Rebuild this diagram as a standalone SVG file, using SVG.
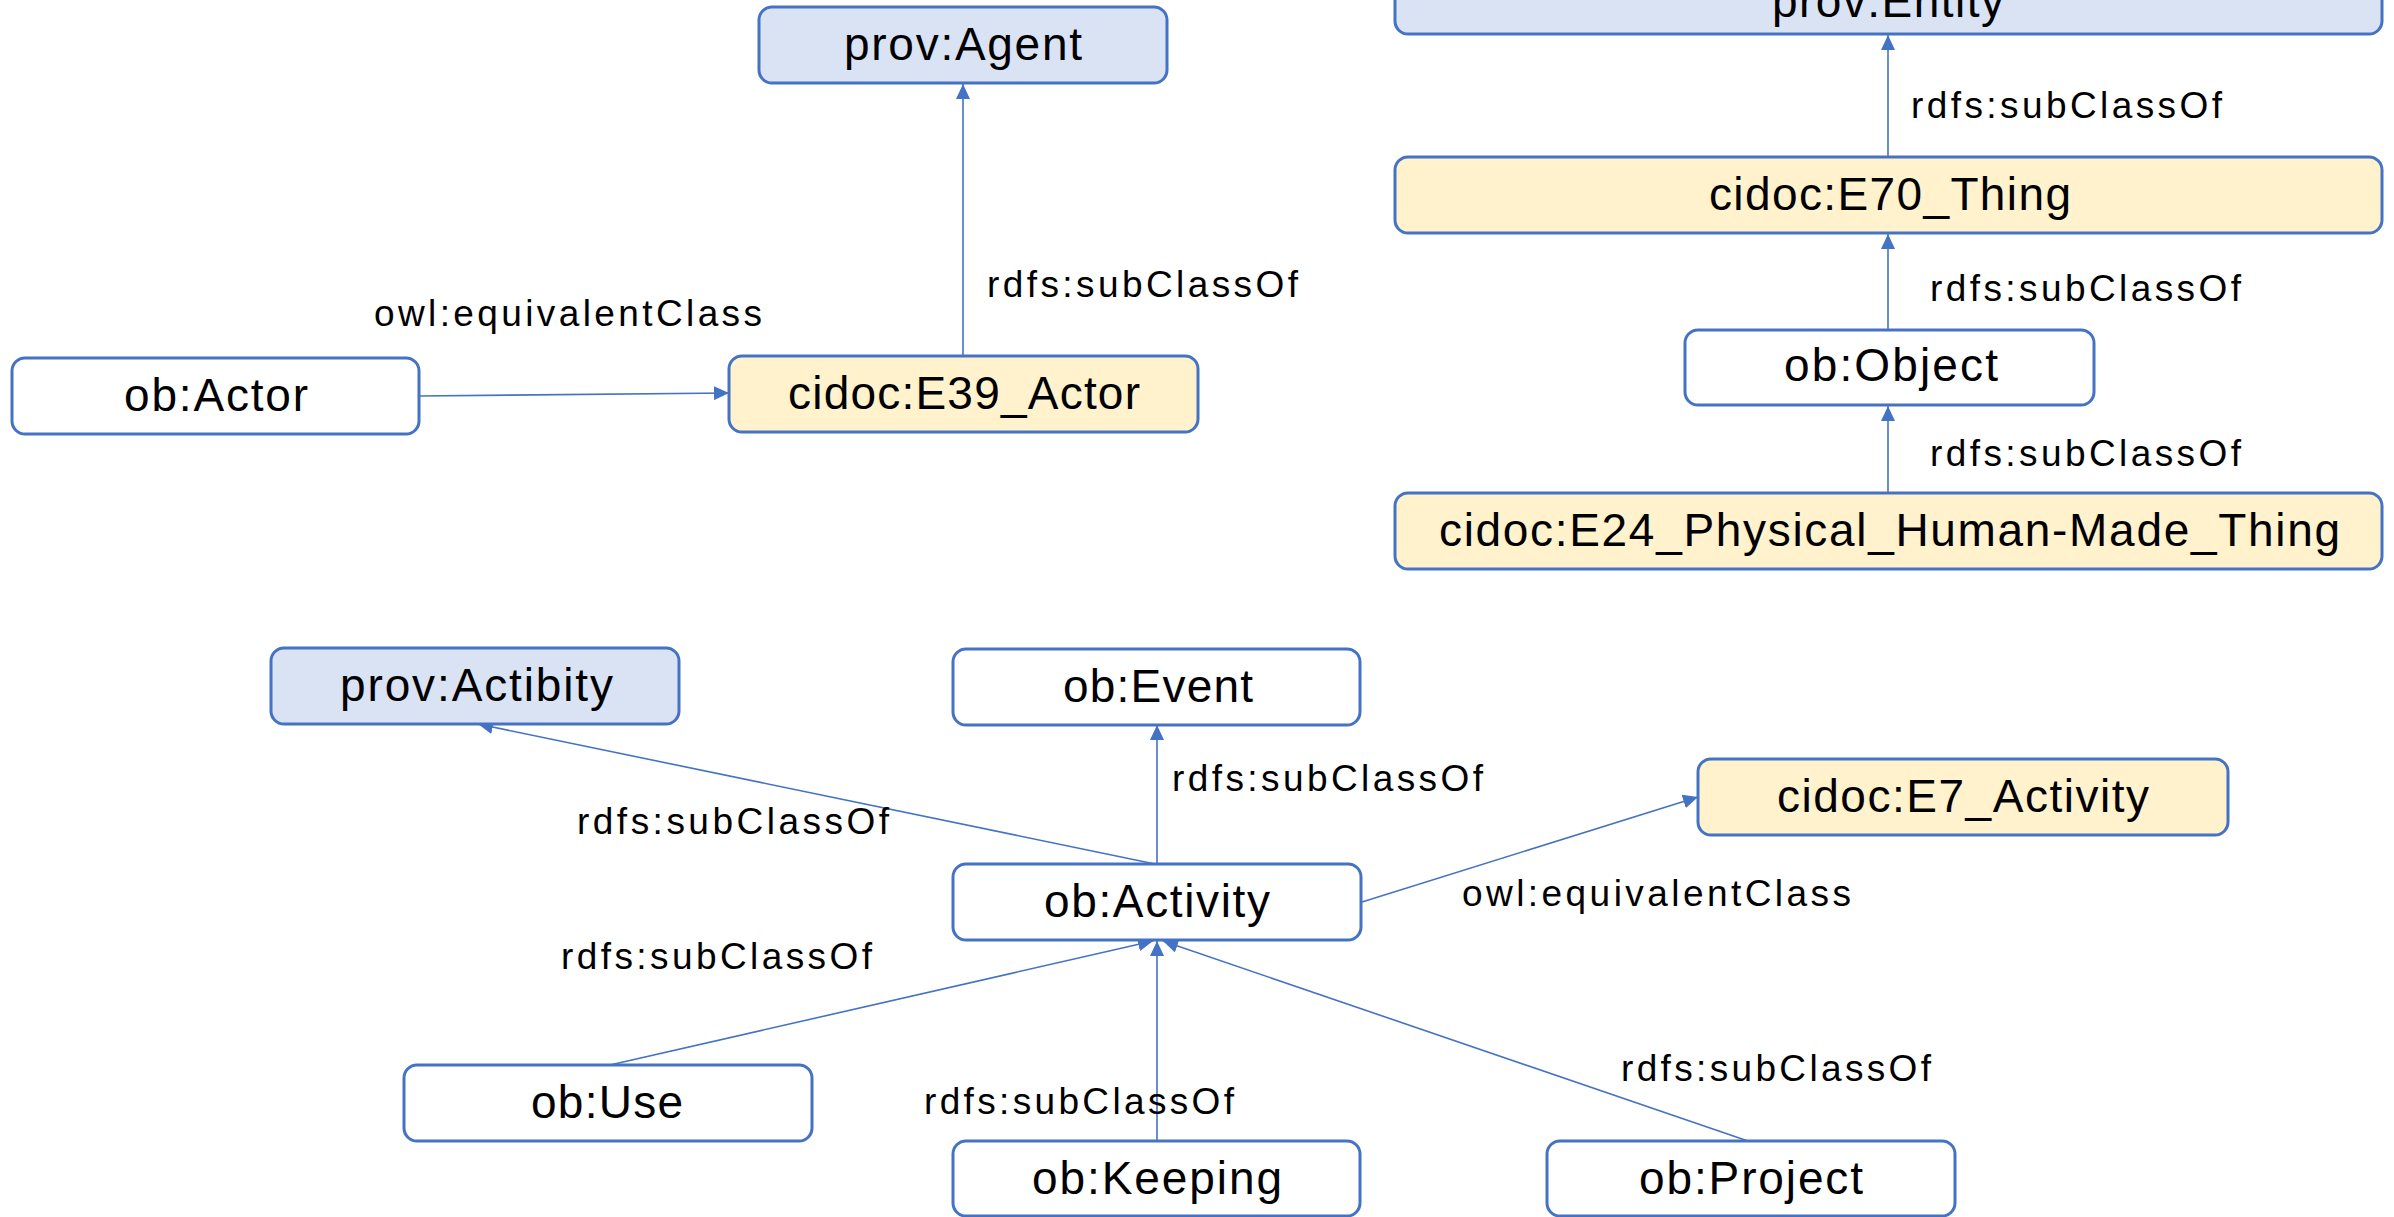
<svg xmlns="http://www.w3.org/2000/svg" width="2394" height="1217" viewBox="0 0 2394 1217">
<defs>
<style>
.node rect{stroke:#4472C4;stroke-width:3}
.prov rect{fill:#DAE3F3}
.cidoc rect{fill:#FFF2CC}
.ob rect{fill:#FFFFFF}
.node text{font-family:"Liberation Sans",Arial,sans-serif;font-size:46px;fill:#000}
.lbl{font-family:"Liberation Sans",Arial,sans-serif;font-size:37px;fill:#000}
.edge{stroke:#4472C4;stroke-width:1.6;fill:none;marker-end:url(#arr)}
</style>
<marker id="arr" viewBox="0 0 15 14" refX="15" refY="7" markerWidth="15" markerHeight="14" markerUnits="userSpaceOnUse" orient="auto">
<path d="M0,0 L15,7 L0,14 z" fill="#4472C4"/>
</marker>
</defs>
<rect x="0" y="0" width="2394" height="1217" fill="#FFFFFF"/>

<g id="connectors">
<path class="edge" d="M419,396 L729,393"/>
<path class="edge" d="M963,356 L963,84"/>
<path class="edge" d="M1888,157 L1888,35"/>
<path class="edge" d="M1888,330 L1888,234"/>
<path class="edge" d="M1888,493 L1888,406"/>
<path class="edge" d="M1155,864 L478,724"/>
<path class="edge" d="M1157,864 L1157,725"/>
<path class="edge" d="M1362,902 L1698,797"/>
<path class="edge" d="M610,1065 L1153,941"/>
<path class="edge" d="M1157,1141 L1157,941"/>
<path class="edge" d="M1748,1141 L1163,941"/>
<text class="lbl" x="374" y="326" textLength="388" lengthAdjust="spacing">owl:equivalentClass</text>
<text class="lbl" x="987" y="297" textLength="311" lengthAdjust="spacing">rdfs:subClassOf</text>
<text class="lbl" x="1911" y="118" textLength="311" lengthAdjust="spacing">rdfs:subClassOf</text>
<text class="lbl" x="1930" y="301" textLength="311" lengthAdjust="spacing">rdfs:subClassOf</text>
<text class="lbl" x="1930" y="466" textLength="311" lengthAdjust="spacing">rdfs:subClassOf</text>
<text class="lbl" x="577" y="834" textLength="312" lengthAdjust="spacing">rdfs:subClassOf</text>
<text class="lbl" x="1172" y="791" textLength="311" lengthAdjust="spacing">rdfs:subClassOf</text>
<text class="lbl" x="1462" y="906" textLength="389" lengthAdjust="spacing">owl:equivalentClass</text>
<text class="lbl" x="561" y="969" textLength="311" lengthAdjust="spacing">rdfs:subClassOf</text>
<text class="lbl" x="924" y="1114" textLength="310" lengthAdjust="spacing">rdfs:subClassOf</text>
<text class="lbl" x="1621" y="1081" textLength="310" lengthAdjust="spacing">rdfs:subClassOf</text>
</g>

<g id="prov-agent" class="node prov"><rect x="759" y="7" width="408" height="76" rx="13"/><text x="844" y="60" textLength="238" lengthAdjust="spacing">prov:Agent</text></g>
<g id="prov-entity" class="node prov"><rect x="1395" y="-40" width="987" height="74" rx="13"/><text x="1772" y="17" textLength="232" lengthAdjust="spacing">prov:Entity</text></g>
<g id="cidoc-e70" class="node cidoc"><rect x="1395" y="157" width="987" height="76" rx="13"/><text x="1709" y="210" textLength="362" lengthAdjust="spacing">cidoc:E70_Thing</text></g>
<g id="ob-object" class="node ob"><rect x="1685" y="330" width="409" height="75" rx="13"/><text x="1784" y="381" textLength="214" lengthAdjust="spacing">ob:Object</text></g>
<g id="cidoc-e24" class="node cidoc"><rect x="1395" y="493" width="987" height="76" rx="13"/><text x="1439" y="546" textLength="901" lengthAdjust="spacing">cidoc:E24_Physical_Human-Made_Thing</text></g>
<g id="ob-actor" class="node ob"><rect x="12" y="358" width="407" height="76" rx="13"/><text x="124" y="411" textLength="184" lengthAdjust="spacing">ob:Actor</text></g>
<g id="cidoc-e39" class="node cidoc"><rect x="729" y="356" width="469" height="76" rx="13"/><text x="788" y="409" textLength="352" lengthAdjust="spacing">cidoc:E39_Actor</text></g>
<g id="prov-actibity" class="node prov"><rect x="271" y="648" width="408" height="76" rx="13"/><text x="340" y="701" textLength="273" lengthAdjust="spacing">prov:Actibity</text></g>
<g id="ob-event" class="node ob"><rect x="953" y="649" width="407" height="76" rx="13"/><text x="1063" y="702" textLength="190" lengthAdjust="spacing">ob:Event</text></g>
<g id="cidoc-e7" class="node cidoc"><rect x="1698" y="759" width="530" height="76" rx="13"/><text x="1777" y="812" textLength="372" lengthAdjust="spacing">cidoc:E7_Activity</text></g>
<g id="ob-activity" class="node ob"><rect x="953" y="864" width="408" height="76" rx="13"/><text x="1044" y="917" textLength="226" lengthAdjust="spacing">ob:Activity</text></g>
<g id="ob-use" class="node ob"><rect x="404" y="1065" width="408" height="76" rx="13"/><text x="531" y="1118" textLength="152" lengthAdjust="spacing">ob:Use</text></g>
<g id="ob-keeping" class="node ob"><rect x="953" y="1141" width="407" height="75" rx="13"/><text x="1032" y="1194" textLength="250" lengthAdjust="spacing">ob:Keeping</text></g>
<g id="ob-project" class="node ob"><rect x="1547" y="1141" width="408" height="75" rx="13"/><text x="1639" y="1194" textLength="224" lengthAdjust="spacing">ob:Project</text></g>
</svg>
